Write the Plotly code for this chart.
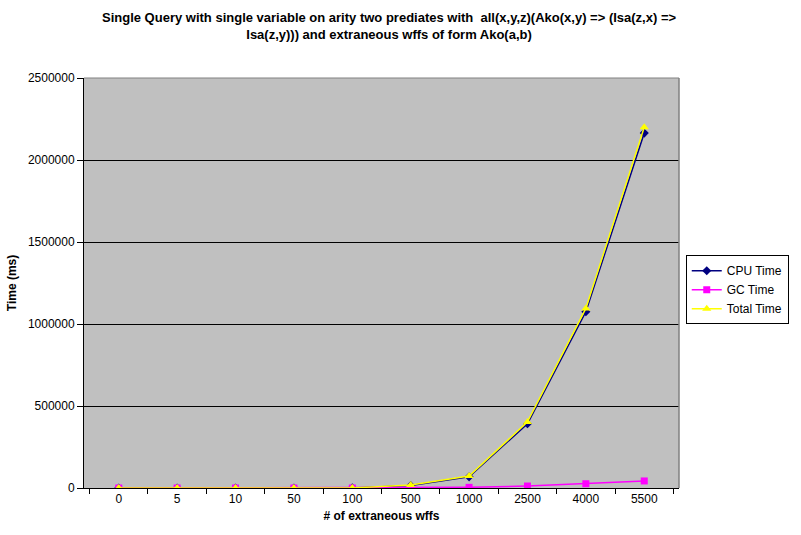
import plotly.graph_objects as go

# Number of extraneous wffs (category labels on the x axis)
wffs = ["0", "5", "10", "50", "100", "500", "1000", "2500", "4000", "5500"]

# Timings in milliseconds
cpu_time = [0, 0, 0, 0, 500, 15000, 68000, 392000, 1075000, 2164000]
gc_time = [0, 0, 0, 0, 0, 1000, 4000, 12000, 26000, 43000]
total_time = [0, 0, 0, 0, 500, 18000, 73000, 403000, 1095000, 2200000]

y_ticks = [0, 500000, 1000000, 1500000, 2000000, 2500000]

chart_title = ("<b>Single Query with single variable on arity two prediates with "
               "&nbsp;all(x,y,z)(Ako(x,y) =&gt; (Isa(z,x) =&gt;<br>"
               "Isa(z,y))) and extraneous wffs of form Ako(a,b)</b>")

FONT = "Arial, Liberation Sans, sans-serif"

fig = go.Figure()

fig.add_trace(go.Scatter(
    x=wffs, y=cpu_time, name="CPU Time", mode="lines+markers",
    line=dict(color="#000080", width=1.5),
    marker=dict(symbol="diamond", size=7, color="#000080"),
))
fig.add_trace(go.Scatter(
    x=wffs, y=gc_time, name="GC Time", mode="lines+markers",
    line=dict(color="#FF00FF", width=1.5),
    marker=dict(symbol="square", size=7, color="#FF00FF"),
))
fig.add_trace(go.Scatter(
    x=wffs, y=total_time, name="Total Time", mode="lines+markers",
    line=dict(color="#FFFF00", width=1.5),
    marker=dict(symbol="triangle-up", size=8, color="#FFFF00"),
))

fig.update_layout(
    width=801, height=535,
    margin=dict(l=84, r=100, t=78, b=47),
    paper_bgcolor="white",
    plot_bgcolor="#C0C0C0",
    font=dict(family=FONT, size=12, color="black"),
    showlegend=True,
    legend=dict(
        x=(708 - 84) / 617, xanchor="left",
        y=(488 - 255) / 410.5, yanchor="top",
        bgcolor="white", bordercolor="black", borderwidth=1,
        font=dict(family=FONT, size=12, color="black"),
        tracegroupgap=0, itemwidth=30,
    ),
    xaxis=dict(
        type="category",
        title=dict(text="<b># of extraneous wffs</b>", font=dict(family=FONT, size=12), standoff=6),
        tickson="boundaries", ticks="outside", ticklen=5, tickcolor="black",
        showline=True, linecolor="black", linewidth=1, mirror=False,
        showgrid=False, zeroline=False,
        tickfont=dict(family=FONT, size=12),
    ),
    yaxis=dict(
        range=[0, 2500000],
        tickvals=y_ticks, ticktext=[str(v) for v in y_ticks],
        title=dict(text="<b>Time (ms)</b>", font=dict(family=FONT, size=12), standoff=8),
        ticks="outside", ticklen=6, tickcolor="black",
        showline=True, linecolor="black", linewidth=1,
        showgrid=True, gridcolor="black", gridwidth=1,
        zeroline=False,
        tickfont=dict(family=FONT, size=12),
    ),
)

# Chart title, two centred lines above the plot area
fig.add_annotation(
    text=chart_title, showarrow=False,
    xref="paper", x=(400.5 - 84) / 617, xanchor="center",
    yref="paper", y=(488 - 25) / 410.5, yanchor="middle",
    font=dict(family=FONT, size=13, color="black"),
    align="center",
)

# Grey border on the top and right edges of the plot area
fig.add_shape(type="line", xref="paper", yref="paper", x0=0, x1=1, y0=1, y1=1,
              line=dict(color="#808080", width=1))
fig.add_shape(type="line", xref="paper", yref="paper", x0=1, x1=1, y0=0, y1=1,
              line=dict(color="#808080", width=1.5))

fig.write_html("out.html")
